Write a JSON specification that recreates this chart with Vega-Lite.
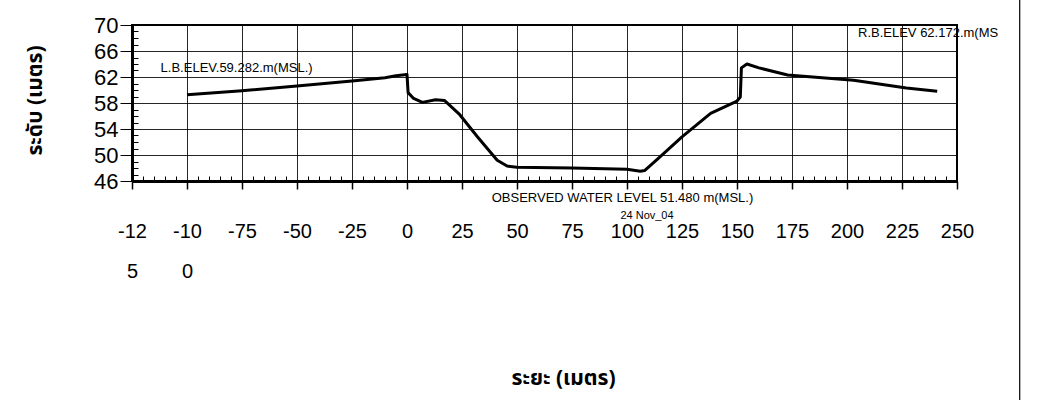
{
  "$schema": "https://vega.github.io/schema/vega-lite/v6.json",
  "width": 825,
  "height": 156,
  "autosize": {"type": "none"},
  "padding": {"left": 132, "top": 25, "right": 101, "bottom": 219},
  "background": "white",
  "config": {
    "view": {"stroke": "black", "strokeWidth": 2},
    "font": "Liberation Sans"
  },
  "datasets": {
    "profile": [
      {"o": 1, "dist": -100, "elev": 59.28},
      {"o": 2, "dist": -75, "elev": 59.9},
      {"o": 3, "dist": -50, "elev": 60.6},
      {"o": 4, "dist": -25, "elev": 61.4},
      {"o": 5, "dist": -10, "elev": 61.9},
      {"o": 6, "dist": -5, "elev": 62.2},
      {"o": 7, "dist": 0, "elev": 62.4},
      {"o": 8, "dist": 0.5, "elev": 59.6},
      {"o": 9, "dist": 3, "elev": 58.7},
      {"o": 10, "dist": 7, "elev": 58.1},
      {"o": 11, "dist": 13, "elev": 58.5},
      {"o": 12, "dist": 17, "elev": 58.4},
      {"o": 13, "dist": 24, "elev": 56.2},
      {"o": 14, "dist": 32, "elev": 52.8},
      {"o": 15, "dist": 41, "elev": 49.2},
      {"o": 16, "dist": 45.5, "elev": 48.3},
      {"o": 17, "dist": 50, "elev": 48.1},
      {"o": 18, "dist": 75, "elev": 48.0},
      {"o": 19, "dist": 100, "elev": 47.8},
      {"o": 20, "dist": 106, "elev": 47.5},
      {"o": 21, "dist": 108, "elev": 47.6},
      {"o": 22, "dist": 115, "elev": 49.7},
      {"o": 23, "dist": 125, "elev": 52.8},
      {"o": 24, "dist": 138, "elev": 56.4},
      {"o": 25, "dist": 150, "elev": 58.3},
      {"o": 26, "dist": 151.5, "elev": 58.9},
      {"o": 27, "dist": 152, "elev": 63.4},
      {"o": 28, "dist": 154.5, "elev": 64.0},
      {"o": 29, "dist": 160, "elev": 63.4},
      {"o": 30, "dist": 173, "elev": 62.3},
      {"o": 31, "dist": 203, "elev": 61.5},
      {"o": 32, "dist": 227, "elev": 60.3},
      {"o": 33, "dist": 241, "elev": 59.8}
    ],
    "notes": [
      {"dist": -112, "elev": 63.4, "label": "L.B.ELEV.59.282.m(MSL.)", "size": 13},
      {"dist": 205, "elev": 68.7, "label": "R.B.ELEV 62.172.m(MS", "size": 13},
      {"dist": 38.5, "elev": 43.4, "label": "OBSERVED WATER LEVEL 51.480 m(MSL.)", "size": 13},
      {"dist": 97, "elev": 40.6, "label": "24 Nov_04", "size": 11}
    ],
    "edge": [
      {"dist": 278.5, "elev": 74, "elev2": 12}
    ]
  },
  "layer": [
    {
      "data": {"name": "profile"},
      "mark": {"type": "line", "color": "black", "strokeWidth": 3, "strokeJoin": "round"},
      "encoding": {
        "x": {
          "field": "dist",
          "type": "quantitative",
          "scale": {"domain": [-125, 250], "nice": false, "zero": false},
          "axis": {
            "values": [-125,-120,-115,-110,-105,-100,-95,-90,-85,-80,-75,-70,-65,-60,-55,-50,-45,-40,-35,-30,-25,-20,-15,-10,-5,0,5,10,15,20,25,30,35,40,45,50,55,60,65,70,75,80,85,90,95,100,105,110,115,120,125,130,135,140,145,150,155,160,165,170,175,180,185,190,195,200,205,210,215,220,225,230,235,240,245,250],
            "tickCount": 1000,
            "format": "d",
            "labelExpr": "datum.value % 25 !== 0 ? '' : (datum.value === -125 ? ['-12','5'] : (datum.value === -100 ? ['-10','0'] : '' + datum.value))",
            "labelOverlap": false,
            "labelFlush": false,
            "labelFont": "Liberation Sans",
            "labelFontSize": 20,
            "labelColor": "black",
            "labelPadding": 42,
            "labelLineHeight": 40,
            "labelBaseline": "middle",
            "grid": true,
            "gridColor": "black",
            "gridWidth": 1,
            "gridOpacity": {"condition": {"test": "datum.value % 25 === 0", "value": 0.85}, "value": 0},
            "ticks": true,
            "tickColor": "black",
            "tickWidth": {"condition": {"test": "datum.value % 25 === 0", "value": 1.5}, "value": 1},
            "tickSize": {"condition": {"test": "datum.value % 25 === 0", "value": 8}, "value": -5},
            "domain": true,
            "domainColor": "black",
            "domainWidth": 3,
            "title": "ระยะ (เมตร)",
            "titleFont": "Noto Sans Thai, DejaVu Sans, sans-serif",
            "titleFontSize": 21,
            "titleFontWeight": "bold",
            "titleColor": "black",
            "titleBaseline": "middle",
            "titleAnchor": "middle",
            "titleX": 431,
            "titleY": 197
          }
        },
        "y": {
          "field": "elev",
          "type": "quantitative",
          "scale": {"domain": [46, 70], "nice": false, "zero": false},
          "axis": {
            "values": [46,46.5,47,47.5,48,48.5,49,49.5,50,50.5,51,51.5,52,52.5,53,53.5,54,54.5,55,55.5,56,56.5,57,57.5,58,58.5,59,59.5,60,60.5,61,61.5,62,62.5,63,63.5,64,64.5,65,65.5,66,66.5,67,67.5,68,68.5,69,69.5,70],
            "tickCount": 1000,
            "format": "d",
            "labelExpr": "(datum.value - 46) % 4 === 0 ? datum.label : ''",
            "labelOverlap": false,
            "labelFlush": false,
            "labelFontSize": 22,
            "labelColor": "black",
            "labelPadding": 2,
            "labelBaseline": "middle",
            "grid": true,
            "gridColor": "black",
            "gridWidth": 1,
            "gridOpacity": {"condition": {"test": "(datum.value - 46) % 4 === 0", "value": 0.85}, "value": 0},
            "ticks": true,
            "tickColor": "black",
            "tickWidth": 1,
            "tickSize": {"condition": {"test": "(datum.value - 46) % 4 === 0", "value": 12}, "value": -6},
            "domain": true,
            "domainColor": "black",
            "domainWidth": 3,
            "title": "ระดับ (เมตร)",
            "titleFont": "Noto Sans Thai, DejaVu Sans, sans-serif",
            "titleFontSize": 21,
            "titleFontWeight": "bold",
            "titleColor": "black",
            "titleBaseline": "middle",
            "titleAnchor": "middle",
            "titleX": -97,
            "titleY": 75,
            "titleAngle": -90
          }
        },
        "order": {"field": "o", "type": "quantitative"}
      }
    },
    {
      "data": {"name": "notes"},
      "mark": {"type": "text", "align": "left", "baseline": "middle", "color": "black", "font": "Liberation Sans"},
      "encoding": {
        "x": {"field": "dist", "type": "quantitative"},
        "y": {"field": "elev", "type": "quantitative"},
        "text": {"field": "label"},
        "size": {"field": "size", "type": "quantitative", "scale": null}
      }
    },
    {
      "data": {"name": "edge"},
      "mark": {"type": "rule", "color": "black", "strokeWidth": 1.2, "clip": false},
      "encoding": {
        "x": {"field": "dist", "type": "quantitative"},
        "y": {"field": "elev", "type": "quantitative"},
        "y2": {"field": "elev2"}
      }
    }
  ]
}
